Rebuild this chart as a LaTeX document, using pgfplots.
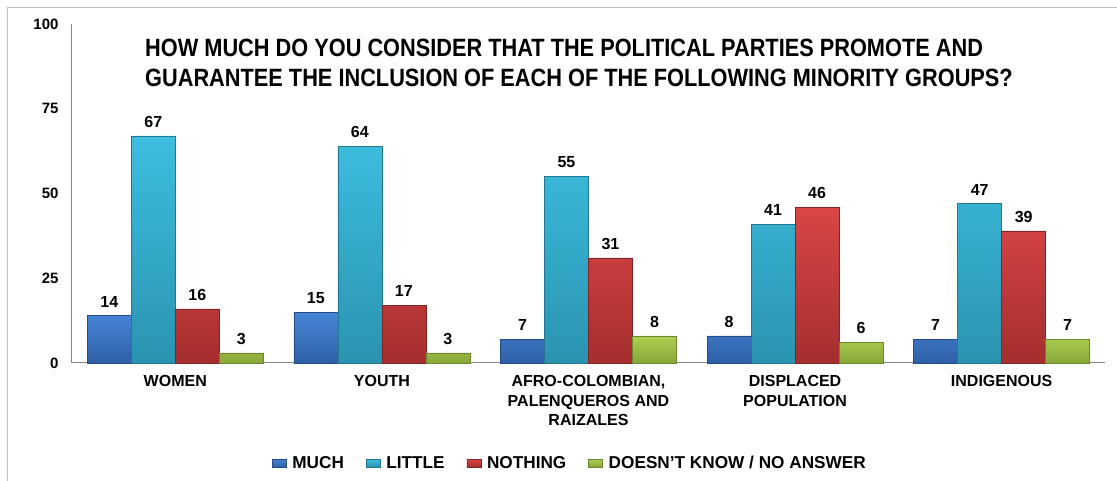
\documentclass[border=0pt]{standalone}
\usepackage{pgfplots}
\pgfplotsset{compat=1.18}
\usepackage{fontspec}
\setmainfont{Liberation Sans}
\newfontfamily\titlefont[FakeStretch=0.87]{Liberation Sans}
\definecolor{muchT}{HTML}{4686D8}
\definecolor{muchB}{HTML}{2F5FA6}
\definecolor{littleT}{HTML}{3DBDE0}
\definecolor{littleB}{HTML}{2A94B0}
\definecolor{nothingT}{HTML}{DA4545}
\definecolor{nothingB}{HTML}{A52E2E}
\definecolor{dkT}{HTML}{ACD050}
\definecolor{dkB}{HTML}{88A63A}
\definecolor{axgray}{HTML}{868686}
\definecolor{framegray}{HTML}{BFBFBF}
\newcommand\lab{\fontsize{16}{19.5}\selectfont\bfseries}
\newcommand\leglab{\fontsize{17.2}{19.5}\selectfont\bfseries}
\newcommand\tlab{\fontsize{15}{18}\selectfont\bfseries}
\begin{document}
\begin{tikzpicture}[x=1pt,y=1pt]
\useasboundingbox (0,0) rectangle (1117,481);
\draw[framegray, line width=1pt] (7,0) -- (7,473) -- (1117,473);
\begin{axis}[
  at={(72pt,118pt)}, anchor=south west,
  scale only axis, width=1033pt, height=339pt,
  xmin=-0.5, xmax=4.5, ymin=0, ymax=100,
  ybar=0pt, bar width=0.213,
  axis x line=bottom, axis y line=left,
  axis line style={-, draw=axgray, line width=1pt},
  xtick={0,1,2,3,4},
  xticklabels={WOMEN, YOUTH, {AFRO-COLOMBIAN,\\PALENQUEROS AND\\RAIZALES}, {DISPLACED\\POPULATION}, INDIGENOUS},
  xticklabel style={align=center, font=\lab, yshift=-9pt},
  major tick length=0pt,
  ytick={0,25,50,75,100},
  yticklabel style={font=\tlab, xshift=-10pt},
  /pgf/number format/assume math mode=true,
  nodes near coords,
  nodes near coords style={font=\lab, text=black, yshift=5pt},
  legend style={at={(0.482,-0.295)}, anchor=center, draw=none, legend columns=4,
    font=\leglab,
    /tikz/every odd column/.append style={column sep=4pt},
    /tikz/every even column/.append style={column sep=20pt}},
  legend image code/.code={\path[#1] (0pt,-4pt) rectangle (14pt,4pt);},
  clip=false,
]
\addplot[draw=muchB!80!black, top color=muchT, bottom color=muchB] coordinates {(0,14) (1,15) (2,7) (3,8) (4,7)};
\addplot[draw=littleB!80!black, top color=littleT, bottom color=littleB] coordinates {(0,67) (1,64) (2,55) (3,41) (4,47)};
\addplot[draw=nothingB!80!black, top color=nothingT, bottom color=nothingB] coordinates {(0,16) (1,17) (2,31) (3,46) (4,39)};
\addplot[draw=dkB!80!black, top color=dkT, bottom color=dkB] coordinates {(0,3) (1,3) (2,8) (3,6) (4,7)};
\legend{MUCH, LITTLE, NOTHING, DOESN'T KNOW / NO ANSWER}
\end{axis}
\node[anchor=base west, inner sep=0, font={\titlefont\fontsize{25}{30}\selectfont\bfseries}] at (145,424) {HOW MUCH DO YOU CONSIDER THAT THE POLITICAL PARTIES PROMOTE AND};
\node[anchor=base west, inner sep=0, font={\titlefont\fontsize{25}{30}\selectfont\bfseries}] at (145,394) {GUARANTEE THE INCLUSION OF EACH OF THE FOLLOWING MINORITY GROUPS?};
\end{tikzpicture}
\end{document}
